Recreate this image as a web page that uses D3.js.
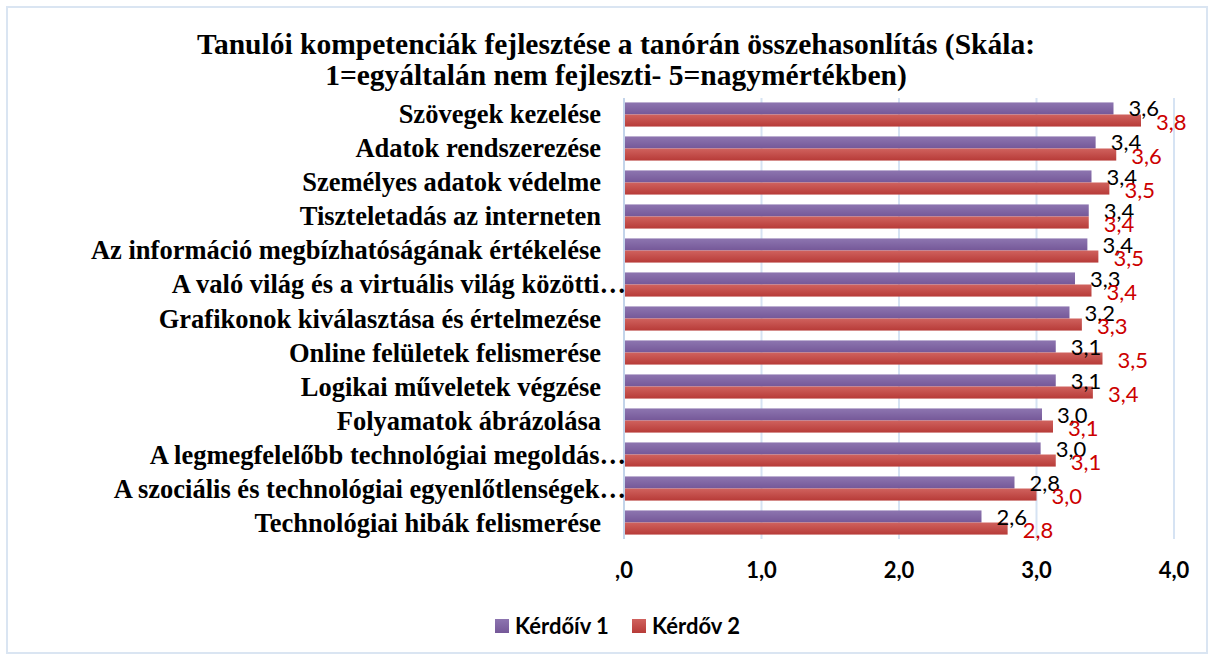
<!DOCTYPE html>
<html>
<head>
<meta charset="utf-8">
<script src="https://cdn.jsdelivr.net/npm/d3@7"></script>
<style>
  body { margin: 0; background: #fff; }
  svg { display: block; }
</style>
</head>
<body>
<div id="chart"></div>
<script>
// data
var categories = [
  "Szövegek kezelése",
  "Adatok rendszerezése",
  "Személyes adatok védelme",
  "Tiszteletadás az interneten",
  "Az információ megbízhatóságának értékelése",
  "A való világ és a virtuális világ közötti…",
  "Grafikonok kiválasztása és értelmezése",
  "Online felületek felismerése",
  "Logikai műveletek végzése",
  "Folyamatok ábrázolása",
  "A legmegfelelőbb technológiai megoldás…",
  "A szociális és technológiai egyenlőtlenségek…",
  "Technológiai hibák felismerése"
]
var kerdoiv1 = [3.56, 3.43, 3.40, 3.38, 3.37, 3.28, 3.24, 3.14, 3.14, 3.04, 3.03, 2.84, 2.60]
var kerdoiv2 = [3.76, 3.58, 3.53, 3.38, 3.45, 3.40, 3.33, 3.48, 3.41, 3.12, 3.14, 3.00, 2.79]
var seriesNames = ["Kérdőív 1", "Kérdőv 2"]
var tickValues = [0, 1, 2, 3, 4]
var tickLabels = [",0", "1,0", "2,0", "3,0", "4,0"]
var titleLines = [
  "Tanulói kompetenciák fejlesztése a tanórán összehasonlítás (Skála:",
  "1=egyáltalán nem fejleszti- 5=nagymértékben)"
]

var width = 1214, height = 660
var fmt = d3.format(".1f")
var label = v => fmt(v).replace(".", ",")

var svg = d3.select("#chart").append("svg")
    .attr("width", width)
    .attr("height", height)

var defs = svg.append("defs")
function grad(id, top, bottom) {
  var g = defs.append("linearGradient").attr("id", id)
      .attr("x1", 0).attr("y1", 0).attr("x2", 0).attr("y2", 1)
  g.append("stop").attr("offset", "0%").attr("stop-color", top)
  g.append("stop").attr("offset", "100%").attr("stop-color", bottom)
}
grad("g-purple", "#8d75b0", "#755898")
grad("g-red", "#d0625e", "#b73b38")
var fills = ["url(#g-purple)", "url(#g-red)"]
var labelColors = ["#000000", "#cc0000"]

// outer frame
svg.append("rect")
    .attr("x", 7).attr("y", 7)
    .attr("width", 1200).attr("height", 646)
    .attr("fill", "none")
    .attr("stroke", "#dae5f2")
    .attr("stroke-width", 2)

// title
svg.append("g").selectAll("text")
  .data(titleLines)
  .join("text")
    .attr("x", 616)
    .attr("y", (d, i) => 54 + i * 31)
    .attr("text-anchor", "middle")
    .style("font", "bold 29.5px 'Liberation Serif', serif")
    .text(d => d)

var x = d3.scaleLinear().domain([0, 4]).range([624, 1174])
var y = d3.scaleBand().domain(categories).range([98, 539])
    .paddingInner(0.29).paddingOuter(0.13)
var ys = d3.scaleBand().domain([0, 1]).range([0, y.bandwidth()])

// gridlines
svg.append("g").selectAll("line")
  .data(tickValues.slice(1))
  .join("line")
    .attr("x1", d => x(d)).attr("x2", d => x(d))
    .attr("y1", 98).attr("y2", 539)
    .attr("stroke", "#d6e3f3")
    .attr("stroke-width", 2)

// bars
var rows = categories.map((c, i) => ({ cat: c, vals: [kerdoiv1[i], kerdoiv2[i]] }))

var row = svg.append("g").selectAll("g")
  .data(rows)
  .join("g")
    .attr("transform", d => `translate(0,${y(d.cat)})`)

row.selectAll("rect")
  .data(d => d.vals)
  .join("rect")
    .attr("x", x(0))
    .attr("y", (d, i) => ys(i))
    .attr("width", d => x(d) - x(0))
    .attr("height", ys.bandwidth())
    .attr("fill", (d, i) => fills[i])

// data labels
row.selectAll("text")
  .data(d => d.vals)
  .join("text")
    .attr("x", d => x(d) + 15)
    .attr("y", (d, i) => ys(i) + ys.bandwidth() + 2 + i)
    .attr("fill", (d, i) => labelColors[i])
    .style("font", "22px Lato, 'Open Sans', sans-serif")
    .text(d => label(d))

// left axis line
svg.append("line")
    .attr("x1", x(0)).attr("x2", x(0))
    .attr("y1", 98).attr("y2", 539)
    .attr("stroke", "#c3d4ea")
    .attr("stroke-width", 2)

// category labels
svg.append("g").selectAll("text")
  .data(categories)
  .join("text")
    .attr("x", d => d.endsWith("…") ? 626 : 601)
    .attr("y", d => y(d) + y.bandwidth() / 2 + 9)
    .attr("text-anchor", "end")
    .style("font", "bold 26.5px 'Liberation Serif', serif")
    .text(d => d)

// x tick labels
svg.append("g").selectAll("text")
  .data(tickValues)
  .join("text")
    .attr("x", d => x(d))
    .attr("y", 578)
    .attr("text-anchor", "middle")
    .style("font", "bold 22px Lato, sans-serif")
    .text((d, i) => tickLabels[i])

// legend
var legendX = [495, 632]
var legend = svg.append("g").selectAll("g")
  .data(seriesNames)
  .join("g")
    .attr("transform", (d, i) => `translate(${legendX[i]},619)`)
legend.append("rect")
    .attr("width", 14).attr("height", 14)
    .attr("fill", (d, i) => fills[i])
legend.append("text")
    .attr("x", 20).attr("y", 15)
    .style("font", "bold 22px Lato, sans-serif")
    .text(d => d)
</script>
</body>
</html>
